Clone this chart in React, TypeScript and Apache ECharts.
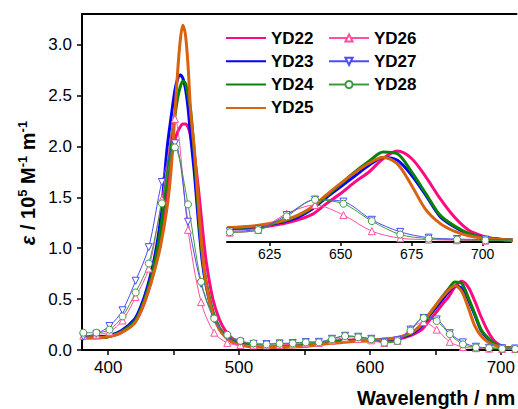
import React, { useEffect, useRef } from "react";
import * as echarts from "echarts";

const FONT = "'Liberation Sans', Arial, sans-serif";

const NAMES_THICK = ["YD22", "YD23", "YD24", "YD25"];
const NAMES_THIN = ["YD26", "YD27", "YD28"];
const COLORS_THICK = ["#ff0a80", "#0000ff", "#0a820a", "#d8620f"];
const COLORS_THIN = ["#ff4f9f", "#4a4aff", "#3d9a3d"];
const SYMBOLS_THIN = ["triangle", "triangle", "circle"];
const SYMBOL_ROT = [0, 180, 0];

const WL_THICK = [380, 390, 400, 410, 420, 425, 430, 435, 440, 445, 448, 451, 453, 455, 457, 459, 461, 463, 466, 469, 472, 475, 480, 485, 490, 495, 500, 510, 520, 530, 540, 550, 560, 570, 580, 590, 600, 610, 620, 630, 635, 640, 645, 650, 655, 660, 665, 670, 675, 680, 685, 690, 695, 700, 705, 712];

const YD22 = [0.12, 0.12, 0.13, 0.17, 0.27, 0.38, 0.55, 0.78, 1.1, 1.58, 1.88, 2.06, 2.14, 2.19, 2.22, 2.22, 2.19, 2.1, 1.9, 1.58, 1.2, 0.86, 0.5, 0.3, 0.18, 0.11, 0.08, 0.045, 0.035, 0.035, 0.04, 0.045, 0.06, 0.075, 0.09, 0.095, 0.09, 0.095, 0.105, 0.138, 0.165, 0.205, 0.285, 0.36, 0.445, 0.52, 0.62, 0.675, 0.62, 0.484, 0.324, 0.187, 0.089, 0.044, 0.022, 0.012];
const YD23 = [0.13, 0.13, 0.14, 0.19, 0.3, 0.43, 0.62, 0.88, 1.28, 1.98, 2.28, 2.55, 2.66, 2.7, 2.67, 2.57, 2.38, 2.1, 1.72, 1.25, 0.86, 0.62, 0.36, 0.21, 0.13, 0.085, 0.06, 0.04, 0.035, 0.035, 0.04, 0.05, 0.065, 0.08, 0.09, 0.095, 0.095, 0.1, 0.115, 0.15, 0.185, 0.245, 0.33, 0.41, 0.49, 0.57, 0.628, 0.607, 0.496, 0.348, 0.19, 0.113, 0.06, 0.035, 0.022, 0.012];
const YD24 = [0.12, 0.12, 0.13, 0.18, 0.28, 0.4, 0.58, 0.83, 1.18, 1.72, 2.05, 2.3, 2.47, 2.58, 2.64, 2.62, 2.5, 2.35, 1.9, 1.35, 0.93, 0.66, 0.38, 0.22, 0.14, 0.09, 0.06, 0.04, 0.035, 0.035, 0.04, 0.05, 0.065, 0.08, 0.09, 0.095, 0.095, 0.105, 0.115, 0.155, 0.195, 0.255, 0.34, 0.43, 0.52, 0.6, 0.668, 0.655, 0.52, 0.36, 0.2, 0.12, 0.064, 0.035, 0.022, 0.012];
const YD25 = [0.12, 0.12, 0.13, 0.17, 0.26, 0.38, 0.55, 0.76, 1.02, 1.4, 1.76, 2.32, 2.72, 3.03, 3.19, 3.1, 2.8, 2.35, 1.95, 1.42, 0.95, 0.64, 0.35, 0.2, 0.12, 0.075, 0.05, 0.03, 0.025, 0.025, 0.03, 0.035, 0.05, 0.065, 0.075, 0.085, 0.09, 0.105, 0.12, 0.16, 0.2, 0.26, 0.35, 0.435, 0.515, 0.585, 0.63, 0.58, 0.42, 0.24, 0.138, 0.08, 0.047, 0.03, 0.02, 0.012];

const WL_THIN = [381, 391, 401, 411, 421, 431, 441, 451, 461, 471, 481, 491, 501, 511, 521, 531, 541, 551, 561, 571, 581, 591, 601, 611, 621, 631, 641, 651, 661, 671, 681, 691, 701, 711];
const YD26 = [0.14, 0.15, 0.18, 0.29, 0.52, 0.8, 1.48, 2.27, 1.18, 0.47, 0.17, 0.07, 0.05, 0.045, 0.045, 0.05, 0.055, 0.065, 0.07, 0.095, 0.12, 0.11, 0.095, 0.07, 0.09, 0.21, 0.275, 0.2, 0.08, 0.028, 0.018, 0.013, 0.01, 0.01];
const YD27 = [0.13, 0.16, 0.235, 0.39, 0.68, 1.01, 1.65, 2.03, 1.26, 0.65, 0.3, 0.13, 0.08, 0.06, 0.058, 0.065, 0.068, 0.078, 0.08, 0.11, 0.14, 0.13, 0.11, 0.08, 0.095, 0.2, 0.315, 0.3, 0.165, 0.075, 0.032, 0.022, 0.018, 0.015];
const YD28 = [0.17, 0.17, 0.2, 0.33, 0.565, 0.85, 1.44, 1.99, 1.43, 0.67, 0.31, 0.15, 0.09, 0.065, 0.055, 0.062, 0.065, 0.075, 0.075, 0.105, 0.137, 0.125, 0.105, 0.072, 0.088, 0.19, 0.314, 0.284, 0.155, 0.055, 0.025, 0.018, 0.012, 0.01];

const X_TICKS = [400, 450, 500, 550, 600, 650, 700];
const X_LABELS = [400, 500, 600, 700];
const Y_TICKS = [0, 0.5, 1, 1.5, 2, 2.5, 3];
const INSET_TICKS = [625, 650, 675, 700];

const THICK = [YD22, YD23, YD24, YD25];
const THIN = [YD26, YD27, YD28];

export default function App() {
  const ref = useRef<HTMLDivElement>(null);
  useEffect(() => {
    if (!ref.current) return;
    const chart = echarts.init(ref.current, undefined, { renderer: "svg" });
    const series: any[] = [];
    const mk = (inset: boolean) => {
      THICK.forEach((arr, i) => {
        const pts = WL_THICK.map((w, j) => [w, arr[j]]).filter((p) => !inset || p[0] >= 610);
        series.push({
          name: NAMES_THICK[i],
          type: "line",
          xAxisIndex: inset ? 2 : 0,
          yAxisIndex: inset ? 1 : 0,
          data: pts,
          symbol: "none",
          showSymbol: false,
          smooth: 0.3,
          clip: true,
          lineStyle: { width: 3, color: COLORS_THICK[i] },
          itemStyle: { color: COLORS_THICK[i] },
          z: 2,
        });
      });
      THIN.forEach((arr, i) => {
        const pts = WL_THIN.map((w, j) => [w, arr[j]]).filter((p) => !inset || p[0] >= 611);
        series.push({
          name: NAMES_THIN[i],
          type: "line",
          xAxisIndex: inset ? 2 : 0,
          yAxisIndex: inset ? 1 : 0,
          data: pts,
          symbol: SYMBOLS_THIN[i],
          symbolRotate: SYMBOL_ROT[i],
          symbolSize: 7,
          showSymbol: true,
          smooth: 0.3,
          clip: true,
          lineStyle: { width: 1, color: COLORS_THIN[i] },
          itemStyle: { color: "#ffffff", borderColor: COLORS_THIN[i], borderWidth: 1 },
          z: 3,
        });
      });
    };
    mk(false);
    mk(true);

    const legendBase = {
      orient: "vertical",
      top: 29,
      itemWidth: 40,
      itemHeight: 14,
      itemGap: 5.3,
      padding: 0,
      textStyle: { fontFamily: FONT, fontSize: 17, fontWeight: "bold", color: "#000", lineHeight: 18 },
    };

    chart.setOption({
      animation: false,
      backgroundColor: "#ffffff",
      textStyle: { fontFamily: FONT },
      legend: [
        { ...legendBase, left: 225, data: NAMES_THICK, itemStyle: { opacity: 0 } },
        { ...legendBase, left: 328, itemHeight: 9, data: NAMES_THIN },
      ],
      grid: [
        { left: 82, top: 14, right: 0, bottom: 59 },
        { left: 227, top: 141, right: 7, bottom: 167 },
      ],
      xAxis: [
        {
          gridIndex: 0,
          type: "value",
          min: 380,
          max: 712,
          position: "bottom",
          axisLine: { show: true, onZero: false, lineStyle: { color: "#000", width: 2 } },
          axisTick: { show: true, customValues: X_TICKS, length: 5, lineStyle: { color: "#000", width: 1.5 } },
          axisLabel: {
            customValues: X_LABELS,
            formatter: (v: number) => (v % 100 === 0 ? String(v) : ""),
            fontSize: 17,
            color: "#000",
            margin: 9,
            fontFamily: FONT,
          },
          splitLine: { show: false },
        },
        {
          gridIndex: 0,
          type: "value",
          min: 380,
          max: 712,
          position: "top",
          axisLine: { show: true, onZero: false, lineStyle: { color: "#000", width: 2 } },
          axisTick: { show: false },
          axisLabel: { show: false },
          splitLine: { show: false },
        },
        {
          gridIndex: 1,
          type: "value",
          min: 610,
          max: 710,
          position: "bottom",
          axisLine: { show: true, onZero: false, lineStyle: { color: "#000", width: 2 } },
          axisTick: { show: true, customValues: INSET_TICKS, length: 4, lineStyle: { color: "#000", width: 1.5 } },
          axisLabel: { customValues: INSET_TICKS, fontSize: 14, color: "#000", margin: 5, fontFamily: FONT },
          splitLine: { show: false },
        },
      ],
      yAxis: [
        {
          gridIndex: 0,
          type: "value",
          min: 0,
          max: 3.3,
          axisLine: { show: true, onZero: false, lineStyle: { color: "#000", width: 2 } },
          axisTick: { show: true, customValues: Y_TICKS, length: 5, lineStyle: { color: "#000", width: 1.5 } },
          axisLabel: {
            customValues: Y_TICKS,
            formatter: (v: number) => v.toFixed(1),
            fontSize: 17,
            color: "#000",
            margin: 10,
            fontFamily: FONT,
          },
          splitLine: { show: false },
        },
        {
          gridIndex: 1,
          type: "value",
          min: 0,
          max: 0.75,
          show: false,
          splitLine: { show: false },
        },
      ],
      graphic: [
        {
          type: "text",
          x: 28,
          y: 183,
          rotation: Math.PI / 2,
          style: {
            text: "{e|ε} / 10{s|5} M{s|-1} m{s|-1}",
            fontFamily: FONT,
            fontSize: 20,
            fontWeight: "bold",
            fill: "#000",
            lineHeight: 24,
            align: "center",
            verticalAlign: "middle",
            textAlign: "center",
            textVerticalAlign: "middle",
            rich: {
              e: { fontFamily: FONT, fontSize: 20, fontStyle: "italic", fontWeight: "bold", lineHeight: 24 },
              s: { fontFamily: FONT, fontSize: 13, fontWeight: "bold", lineHeight: 13, verticalAlign: "top" },
            },
          },
        },
        {
          type: "text",
          x: 357,
          y: 398,
          style: {
            text: "Wavelength / nm",
            fontFamily: FONT,
            fontSize: 20,
            fontWeight: "bold",
            fill: "#000",
            align: "left",
            verticalAlign: "middle",
            textAlign: "left",
            textVerticalAlign: "middle",
          },
        },
      ],
      series,
    });
    return () => chart.dispose();
  }, []);
  return (
    <div
      ref={ref}
      style={{ position: "absolute", left: 0, top: 0, width: 518, height: 409, background: "#fff" }}
    />
  );
}
